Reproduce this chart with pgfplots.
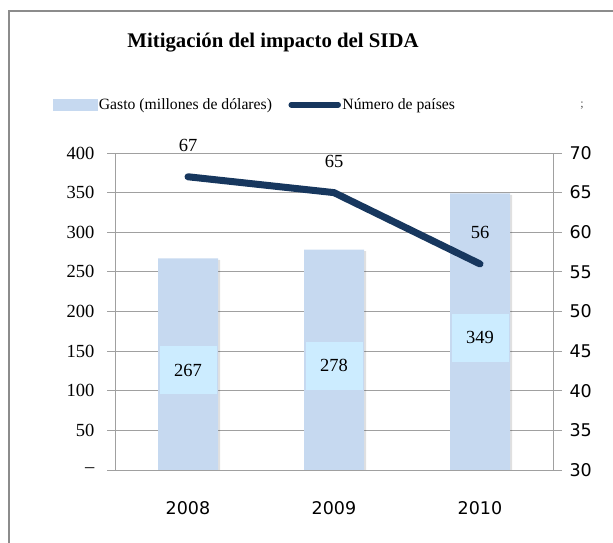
\documentclass[border=0pt]{standalone}
\usepackage{fontspec}
\setmainfont{Liberation Serif}
\newfontfamily\dejavu{DejaVu Sans}
\newcommand\rlab[1]{\textrm{#1}}
\newcommand\dlab[1]{\textrm{\dejavu #1}}
\usepackage{pgfplots}
\usepackage{pgfplotstable}
\pgfplotsset{compat=1.18}
\definecolor{barblue}{HTML}{C6D9F0}
\definecolor{labelcyan}{HTML}{CCECFF}
\definecolor{linenavy}{HTML}{17375E}
\definecolor{gridgray}{HTML}{A0A0A0}
\definecolor{framegray}{HTML}{8C8C8C}

% Gasto (millones de dolares) and Numero de paises
\pgfplotstableread{
x g n
1 267 67
2 278 65
3 349 56
}\datos

\begin{document}
\begin{tikzpicture}
\begin{axis}[
    at={(115pt,73pt)}, anchor=south west,
    scale only axis, width=438pt, height=317pt,
    /pgf/number format/assume math mode=true,
    xmin=0.5, xmax=3.5, ymin=0, ymax=400,
    axis x line*=bottom, axis y line*=left,
    axis line style={gridgray, line width=0.8pt},
    xtick={1,2,3},
    xticklabels={\dlab{2008},\dlab{2009},\dlab{2010}},
    major x tick style={draw=none},
    extra x ticks={0.5,1.5,2.5,3.5}, extra x tick labels={},
    extra x tick style={major tick length=7pt, tick style={gridgray, line width=0.8pt}},
    ytick={0,50,...,400},
    yticklabels={\rlab{--},\rlab{50},\rlab{100},\rlab{150},\rlab{200},\rlab{250},\rlab{300},\rlab{350},\rlab{400}},
    tick align=outside, major tick length=8pt,
    tick style={gridgray, line width=0.8pt},
    ymajorgrids, grid style={gridgray, line width=0.8pt},
    yticklabel style={font=\rmfamily\fontsize{18.5}{20}\selectfont, xshift=-9pt},
    xticklabel style={font=\fontsize{17.5}{19}\selectfont, yshift=-20pt},
]
\addplot[ybar, bar width=60pt, fill=barblue, draw=none,
    preaction={fill=black, opacity=0.12, transform canvas={xshift=2pt, yshift=-1.5pt}}]
    table[x=x, y=g] {\datos};
\addplot[draw=none, nodes near coords, point meta=explicit,
    every node near coord/.append style={fill=labelcyan, draw=none, text=black,
        anchor=center, yshift=-6pt, minimum width=57pt, minimum height=48pt,
        inner sep=0pt, font=\rmfamily\fontsize{18.5}{20}\selectfont}]
    table[x=x, y expr=\thisrow{g}/2, meta=g] {\datos};
\end{axis}
\begin{axis}[
    at={(115pt,73pt)}, anchor=south west,
    scale only axis, width=438pt, height=317pt,
    /pgf/number format/assume math mode=true,
    xmin=0.5, xmax=3.5, ymin=30, ymax=70,
    axis x line=none, axis y line*=right,
    axis line style={gridgray, line width=0.8pt},
    ytick={30,35,...,70},
    yticklabels={\dlab{30},\dlab{35},\dlab{40},\dlab{45},\dlab{50},\dlab{55},\dlab{60},\dlab{65},\dlab{70}},
    tick align=outside, major tick length=9pt,
    tick style={gridgray, line width=0.8pt},
    yticklabel style={font=\fontsize{17.5}{19}\selectfont, xshift=4pt},
    legend style={at={(-0.142,1.152)}, anchor=west, draw=none, fill=none,
        inner sep=0pt, font=\rmfamily\fontsize{15.7}{17}\selectfont,
        nodes={inner sep=1.5pt}},
    legend columns=2,
    /tikz/every even column/.append style={column sep=15pt},
    legend cell align=left,
]
\addlegendimage{legend image code/.code={\fill[barblue] (0pt,-5.5pt) rectangle (44pt,5.5pt);}}
\addlegendentry{Gasto (millones de dólares)}
\addplot[linenavy, line width=7pt, line cap=round, line join=round,
    nodes near coords, point meta=explicit,
    every node near coord/.append style={text=black, anchor=center, yshift=31pt,
        font=\rmfamily\fontsize{18.5}{20}\selectfont},
    legend image code/.code={\draw[linenavy, line width=5.5pt, line cap=round] (2pt,0pt) -- (49pt,0pt);}]
    table[x=x, y=n, meta=n] {\datos};
\addlegendentry{Número de países}
\end{axis}
\node[font=\bfseries\fontsize{20.8}{22}\selectfont] at (273pt,500pt) {Mitigación del impacto del SIDA};
\node[font=\fontsize{12}{14}\selectfont, text=black!70] at (582pt,437pt) {;};
\draw[framegray, line width=2pt] (9pt,0pt) -- (9pt,532pt) -- (613pt,532pt);
\pgfresetboundingbox
\path[use as bounding box] (0pt,0pt) rectangle (613pt,543pt);
\end{tikzpicture}
\end{document}
